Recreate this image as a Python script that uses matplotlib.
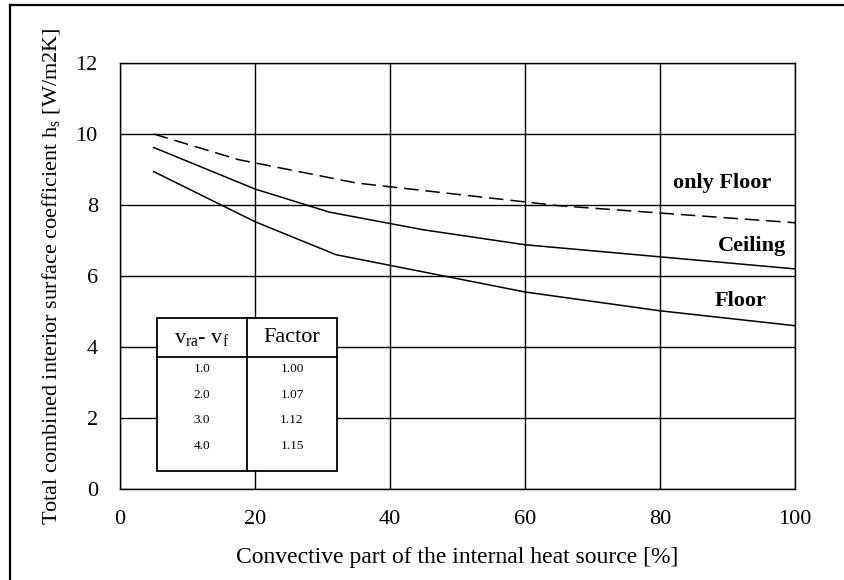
import numpy as np
import matplotlib.pyplot as plt
from matplotlib.lines import Line2D
from matplotlib.patches import Rectangle

plt.rcParams["font.family"] = "Liberation Serif"
plt.rcParams["mathtext.fontset"] = "custom"
plt.rcParams["mathtext.rm"] = "Liberation Serif"
plt.rcParams["mathtext.it"] = "Liberation Serif"

# curves
only_floor_x = [5, 17.5, 35, 65, 100]
only_floor_y = [10.0, 9.28, 8.62, 7.98, 7.5]

ceiling_x = [5, 20, 31, 45, 60, 80, 100]
ceiling_y = [9.62, 8.45, 7.8, 7.3, 6.88, 6.54, 6.2]

floor_x = [5, 20, 32, 60, 80, 100]
floor_y = [8.94, 7.53, 6.6, 5.55, 5.02, 4.6]

x_ticks = [0, 20, 40, 60, 80, 100]
y_ticks = [0, 2, 4, 6, 8, 10, 12]

# correction table
dv_values = ["1.0", "2.0", "3.0", "4.0"]
factor_values = ["1.00", "1.07", "1.12", "1.15"]

fig = plt.figure(figsize=(8.44, 5.80), dpi=100)
ax = fig.add_axes([120 / 844, 1 - 489 / 580, 675 / 844, 426 / 580])

ax.plot(only_floor_x, only_floor_y, color="black", lw=1.1, dashes=(9.5, 4.5))
ax.plot(ceiling_x, ceiling_y, color="black", lw=1.1)
ax.plot(floor_x, floor_y, color="black", lw=1.1)

ax.set_xlim(0, 100)
ax.set_ylim(0, 12)
ax.set_xticks(x_ticks)
ax.set_yticks(y_ticks)
ax.tick_params(length=0, labelsize=16)
ax.tick_params(axis="x", pad=15)
ax.tick_params(axis="y", pad=16)
ax.grid(True, color="black", lw=1.0)
for s in ax.spines.values():
    s.set_linewidth(1.0)

ax.set_xlabel("Convective part of the internal heat source [%]", fontsize=17, labelpad=13)
ax.set_ylabel("Total combined interior surface coefficient h$_\\mathrm{s}$ [W/m2K]",
              fontsize=16, labelpad=10)

ax.text(89.2, 8.62, "only Floor", fontsize=16, fontweight="bold", ha="center", va="center")
ax.text(98.7, 6.85, "Ceiling", fontsize=16, fontweight="bold", ha="right", va="center")
ax.text(92, 5.3, "Floor", fontsize=16, fontweight="bold", ha="center", va="center")

# inset table (axes fraction)
t_left, t_right = (157 - 120) / 675, (337 - 120) / 675
t_top, t_bot = (489 - 318) / 426, (489 - 471) / 426
t_mid = (247 - 120) / 675
t_head = (489 - 357) / 426
tr = ax.transAxes
ax.add_patch(Rectangle((t_left, t_bot), t_right - t_left, t_top - t_bot, transform=tr,
                       facecolor="white", edgecolor="black", lw=1.3, zorder=5))
ax.add_line(Line2D([t_mid, t_mid], [t_bot, t_top], transform=tr, color="black", lw=1.3, zorder=6))
ax.add_line(Line2D([t_left, t_right], [t_head, t_head], transform=tr, color="black", lw=1.3, zorder=6))

c1 = (t_left + t_mid) / 2
c2 = (t_mid + t_right) / 2
head_y = (489 - 338) / 426
ax.text(c1, head_y, "v$_\\mathrm{ra}$- v$_\\mathrm{f}$", transform=tr, fontsize=16,
        ha="center", va="center", zorder=7)
ax.text(c2, head_y, "Factor", transform=tr, fontsize=16, ha="center", va="center", zorder=7)
row_y0 = (489 - 369) / 426
row_step = 25.7 / 426
for i, (dv, f) in enumerate(zip(dv_values, factor_values)):
    yy = row_y0 - i * row_step
    ax.text(c1, yy, dv, transform=tr, fontsize=9.5, ha="center", va="center", zorder=7)
    ax.text(c2, yy, f, transform=tr, fontsize=9.5, ha="center", va="center", zorder=7)

# outer frame (top and left only visible)
fig.add_artist(Line2D([10 / 844, 1], [1 - 5 / 580, 1 - 5 / 580], color="black", lw=1.6))
fig.add_artist(Line2D([10 / 844, 10 / 844], [0, 1 - 5 / 580], color="black", lw=1.6))

fig.savefig("out.png", dpi=100)
